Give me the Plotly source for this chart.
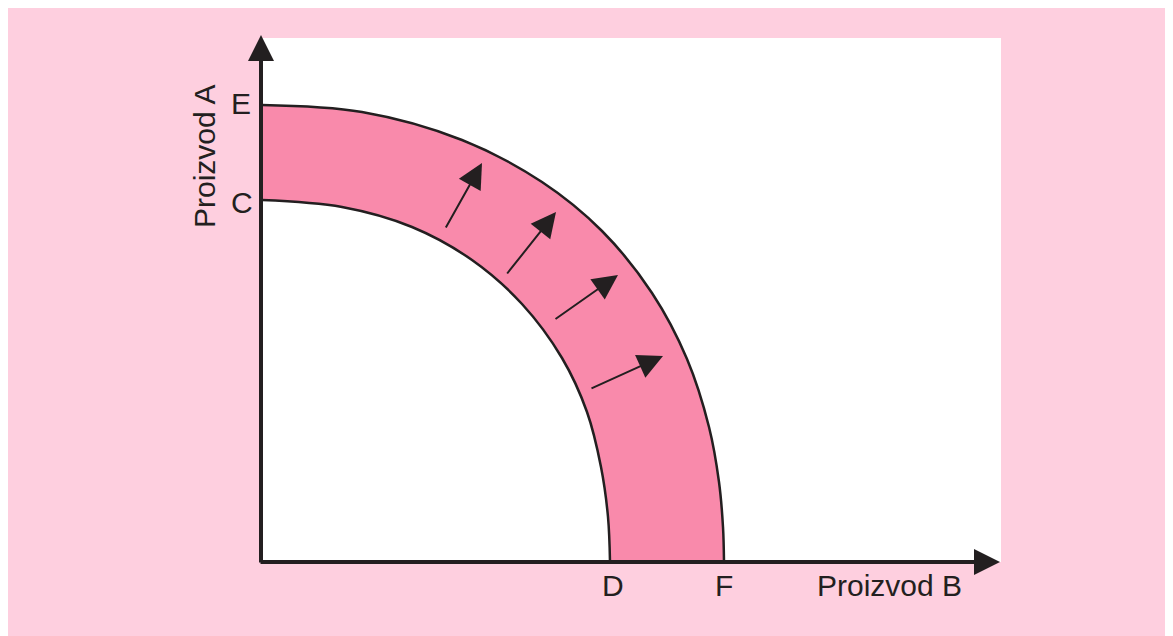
import plotly.graph_objects as go

# Production possibility frontiers (units ~ pixels from origin)
outer_x = [0, 100, 200, 280, 340, 390, 425, 447, 457, 461, 462]
outer_y = [457, 450, 422, 380, 331, 269, 203, 135, 80, 35, 0]
inner_x = [0, 80, 150, 210, 260, 300, 325, 339, 346, 348]
inner_y = [362, 355, 335, 302, 258, 204, 150, 95, 45, 0]

# Shift arrows (tail -> tip)
arrow_tail_x = [183, 244, 292, 328]
arrow_tail_y = [333, 287, 242, 173]
arrow_tip_x = [220, 294, 356, 401]
arrow_tip_y = [399, 350, 287, 206]

# Labels
point_labels = ["E", "C", "D", "F"]
point_label_x = [-21, -20, 351, 462]
point_label_y = [459, 360, -23, -23]
x_title = "Proizvod B"
y_title = "Proizvod A"

INK = "#231F20"
BAND = "#F98AAB"
BG = "#FECFDF"

fig = go.Figure()

fig.add_trace(go.Scatter(x=inner_x, y=inner_y, mode="lines",
                         line=dict(color=INK, width=2.5, shape="spline"),
                         hoverinfo="skip", showlegend=False))
fig.add_trace(go.Scatter(x=outer_x, y=outer_y, mode="lines", fill="tonexty",
                         fillcolor=BAND,
                         line=dict(color=INK, width=2.5, shape="spline"),
                         hoverinfo="skip", showlegend=False))

shapes = [
    dict(type="rect", xref="x", yref="y", x0=-300, x1=1000, y0=-120, y1=556,
         fillcolor=BG, line=dict(width=0), layer="below"),
    dict(type="rect", xref="x", yref="y", x0=0, x1=739, y0=0, y1=524,
         fillcolor="white", line=dict(width=0), layer="below"),
]

annotations = []
# axes with arrowheads
annotations.append(dict(x=738, y=0, ax=-3, ay=0, xref="x", yref="y", axref="x", ayref="y",
                        text="", showarrow=True, arrowhead=2, arrowsize=1.3,
                        arrowwidth=4, arrowcolor=INK))
annotations.append(dict(x=-1, y=527, ax=-1, ay=-2, xref="x", yref="y", axref="x", ayref="y",
                        text="", showarrow=True, arrowhead=2, arrowsize=1.3,
                        arrowwidth=4, arrowcolor=INK))
for tx, ty, hx, hy in zip(arrow_tail_x, arrow_tail_y, arrow_tip_x, arrow_tip_y):
    annotations.append(dict(x=hx, y=hy, ax=tx, ay=ty, xref="x", yref="y", axref="x", ayref="y",
                            text="", showarrow=True, arrowhead=2, arrowsize=2.5,
                            arrowwidth=2, arrowcolor=INK))

font = dict(family="Liberation Sans, Arial, sans-serif", size=30, color=INK)
for lab, lx, ly in zip(point_labels, point_label_x, point_label_y):
    annotations.append(dict(x=lx, y=ly, xref="x", yref="y", text=lab, showarrow=False,
                            font=font, xanchor="center", yanchor="middle"))
annotations.append(dict(x=627, y=-23, xref="x", yref="y", text=x_title, showarrow=False,
                        font=font, xanchor="center", yanchor="middle"))
annotations.append(dict(x=-58, y=405, xref="x", yref="y", text=y_title, showarrow=False,
                        font=font, textangle=-90, xanchor="center", yanchor="middle"))

# The page body adds an 8px margin; the figure is sized to fill the rest of the window.
fig.update_layout(
    width=1165, height=628,
    margin=dict(l=0, r=0, t=0, b=0),
    paper_bgcolor="white", plot_bgcolor="white",
    xaxis=dict(range=[-254, 911], visible=False, fixedrange=True),
    yaxis=dict(range=[-74, 554], visible=False, fixedrange=True),
    shapes=shapes, annotations=annotations,
    showlegend=False,
)

fig.write_html("out.html")
